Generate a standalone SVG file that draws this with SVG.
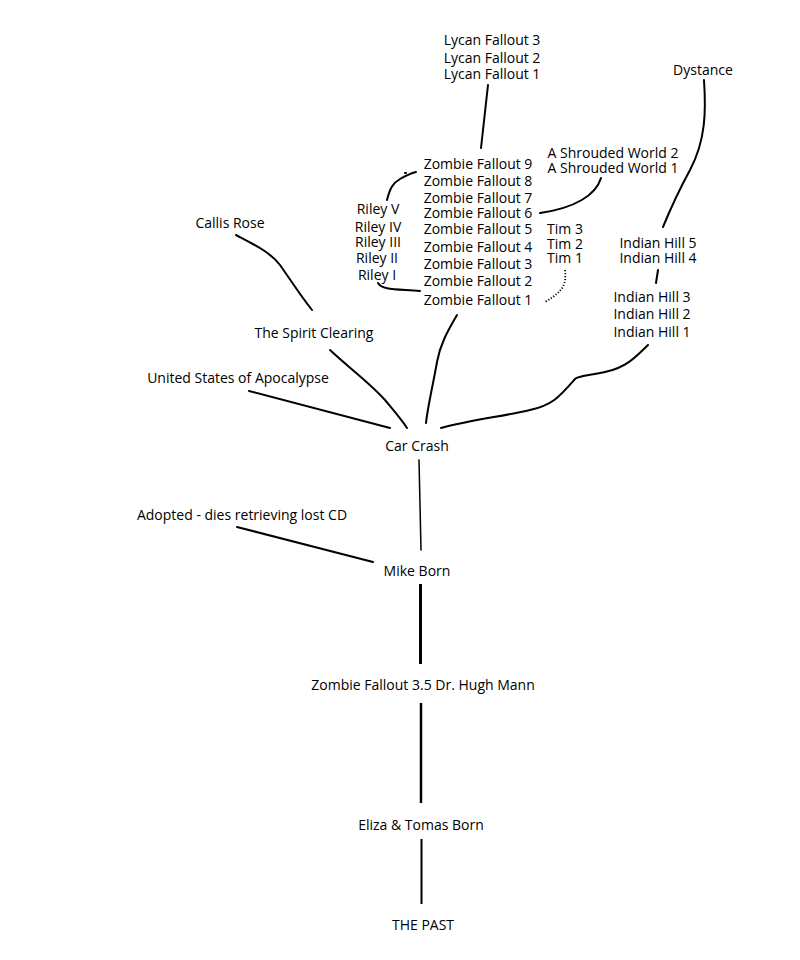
<svg xmlns="http://www.w3.org/2000/svg" width="800" height="960" viewBox="0 0 800 960">
<style>
text{font-family:"Open Sans","Noto Sans",sans-serif;font-size:14px;fill:#000;text-anchor:middle}
.c{fill:none;stroke:#000;stroke-width:2;stroke-linecap:round}
.thin{stroke-width:1.5}
.thick{stroke-width:3;stroke-linecap:butt}
.dot{stroke-width:1.8;stroke-dasharray:1.2 1.8;stroke-linecap:butt}
</style>
<rect width="800" height="960" fill="#fff"/>
<g id="connectors">
<path class="c" d="M488,85 L481,148"/>
<path class="c" d="M704,80 C706,110 706,140 690,170 C678,192 670,210 663,227"/>
<path class="c" d="M387,200 C390,188 393,183 400,179 C407,175 412,173 416,172"/>
<path class="c" d="M405,173 L406,173"/>
<path class="c" d="M378,283 C382,290 395,289 420,291"/>
<path class="c" d="M601,178 C596,195 575,208 540,213"/>
<path class="c dot" d="M565,270 C566,282 566,290 545,302"/>
<path class="c" d="M658,270 L656,283"/>
<path class="c" d="M648,345 C635,358 625,368 605,372 C585,376 577,376 575,379 C560,396 553,405 530,410 C505,416 470,420 441,428"/>
<path class="c" d="M236,235 C255,245 270,252 280,265 C292,282 300,295 312,310"/>
<path class="c" d="M330,350 C348,367 370,383 385,400 C395,412 402,420 407,428"/>
<path class="c" d="M249,391 L390,428"/>
<path class="c" d="M457,315 C447,332 440,345 437,362 C432,390 428,405 426,423"/>
<path class="c thin" d="M419,460 L421,550"/>
<path class="c" d="M237,527 L373,562"/>
<path class="c thick" d="M420.5,584 L420.5,664"/>
<path class="c" style="stroke-width:2.5;stroke-linecap:butt" d="M421,703 L421,803"/>
<path class="c" style="stroke-linecap:butt" d="M421.5,839 L421.5,904"/>
</g>
<g id="lycan"><text x="492" y="45">Lycan Fallout 3</text><text x="492" y="63">Lycan Fallout 2</text><text x="492" y="79">Lycan Fallout 1</text></g>
<g id="dystance"><text x="703" y="75">Dystance</text></g>
<g id="zombie-fallout">
<text x="478" y="169">Zombie Fallout 9</text>
<text x="478" y="186">Zombie Fallout 8</text>
<text x="478" y="203">Zombie Fallout 7</text>
<text x="478" y="218">Zombie Fallout 6</text>
<text x="478" y="234">Zombie Fallout 5</text>
<text x="478" y="252">Zombie Fallout 4</text>
<text x="478" y="269">Zombie Fallout 3</text>
<text x="478" y="286">Zombie Fallout 2</text>
<text x="478" y="305">Zombie Fallout 1</text>
</g>
<g id="riley">
<text x="378" y="214">Riley V</text>
<text x="378" y="232">Riley IV</text>
<text x="378" y="247">Riley III</text>
<text x="377" y="263">Riley II</text>
<text x="377" y="280">Riley I</text>
</g>
<g id="shrouded"><text x="613" y="158">A Shrouded World 2</text><text x="613" y="173">A Shrouded World 1</text></g>
<g id="tim"><text x="565" y="234">Tim 3</text><text x="565" y="249">Tim 2</text><text x="565" y="263">Tim 1</text></g>
<g id="indian-hill-45"><text x="658" y="248">Indian Hill 5</text><text x="658" y="263">Indian Hill 4</text></g>
<g id="indian-hill-123"><text x="652" y="302">Indian Hill 3</text><text x="652" y="319">Indian Hill 2</text><text x="652" y="337">Indian Hill 1</text></g>
<g id="callis-rose"><text x="230" y="228">Callis Rose</text></g>
<g id="spirit-clearing"><text x="314" y="338">The Spirit Clearing</text></g>
<g id="usa"><text x="238" y="383">United States of Apocalypse</text></g>
<g id="car-crash"><text x="417" y="451">Car Crash</text></g>
<g id="adopted"><text x="242" y="520">Adopted - dies retrieving lost CD</text></g>
<g id="mike-born"><text x="417" y="576">Mike Born</text></g>
<g id="zf35"><text x="423" y="690">Zombie Fallout 3.5 Dr. Hugh Mann</text></g>
<g id="eliza-tomas"><text x="421" y="830">Eliza &amp; Tomas Born</text></g>
<g id="the-past"><text x="423" y="930">THE PAST</text></g>
</svg>
